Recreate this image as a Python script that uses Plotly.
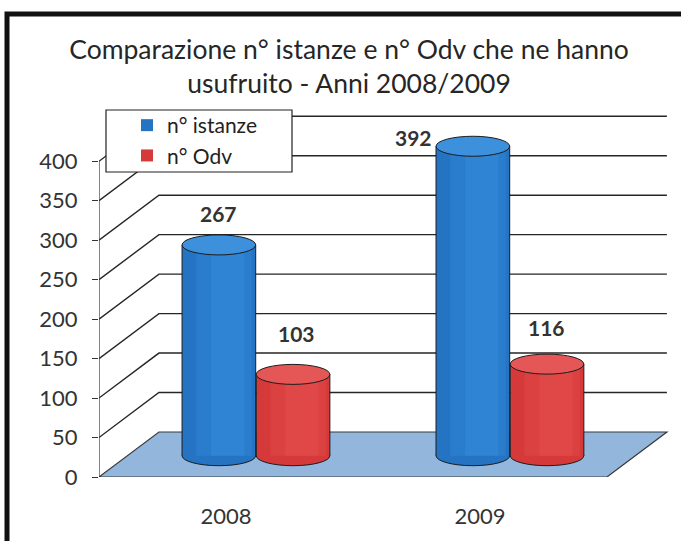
import plotly.graph_objects as go

# ---- data ----
categories = ["2008", "2009"]
series_names = ["n° istanze", "n° Odv"]
istanze = [267, 392]
odv = [103, 116]
y_ticks = [0, 50, 100, 150, 200, 250, 300, 350, 400]
title_text = "Comparazione n° istanze e n° Odv che ne hanno<br>usufruito - Anni 2008/2009"

# ---- styling / geometry (pseudo-3D) ----
W, H = 681, 541
ML, MR, MT, MB = 99, 8, 106, 64
XR = [-0.5, 1.76]
YR = [0, 470]
plot_w = W - ML - MR
plot_h = H - MT - MB
px_per_y = plot_h / (YR[1] - YR[0])

DX_BACK, DY_BACK = 0.236, 57.0     # depth offset of the back wall
DX_MID, DY_MID = 0.118, 27.0       # depth offset where cylinders stand
BAR_W = 0.29
OFFS = [-0.146, 0.146]
RY = 10 / px_per_y                 # ellipse vertical radius in data units

body_cols = ["#2574c4", "#d63939"]
shade_cols = ["#2a7dcd", "#dc4141"]
light_cols = ["#2f85d4", "#e04848"]
top_cols = ["#3d90dc", "#e55656"]
edge = "#1c1c1c"
floor_col = "#93b6dd"
font_fam = "Lato, 'Open Sans', sans-serif"

fig = go.Figure()
shapes = []
annotations = []

x_left = XR[0]
x_right = x_left + len(categories)

# floor
shapes.append(dict(
    type="path", xref="x", yref="y", layer="below",
    path=f"M {x_left},0 L {x_right},0 L {x_right+DX_BACK},{DY_BACK} L {x_left+DX_BACK},{DY_BACK} Z",
    fillcolor=floor_col, line=dict(color="#3a3a3a", width=1.2)))

# wall grid lines (left wall diagonal + back wall horizontal)
for v in y_ticks[1:]:
    shapes.append(dict(
        type="path", xref="x", yref="y", layer="below",
        path=f"M {x_left},{v} L {x_left+DX_BACK},{v+DY_BACK} L {x_right+DX_BACK},{v+DY_BACK}",
        line=dict(color="#262626", width=1.4)))

# front value axis line
shapes.append(dict(type="line", xref="x", yref="y", layer="above",
                   x0=x_left, x1=x_left, y0=y_ticks[0], y1=y_ticks[-1],
                   line=dict(color="#333333", width=1.2)))

label_shift = [[(0, 31), (-59, 9)], [(3, 41), (-1, 37)]]

for s, (name, vals) in enumerate(zip(series_names, [istanze, odv])):
    xs = [i + DX_MID + OFFS[s] for i in range(len(categories))]
    fig.add_trace(go.Bar(
        x=xs, y=vals, base=DY_MID, width=BAR_W, name=name,
        marker=dict(color=body_cols[s], line=dict(width=0)),
        hoverinfo="skip"))
    # cylinder shading bands
    fig.add_trace(go.Bar(
        x=[x + 0.02 for x in xs], y=vals, base=DY_MID, width=BAR_W * 0.75,
        marker=dict(color=shade_cols[s], line=dict(width=0)),
        showlegend=False, hoverinfo="skip"))
    fig.add_trace(go.Bar(
        x=[x + 0.035 for x in xs], y=vals, base=DY_MID, width=BAR_W * 0.45,
        marker=dict(color=light_cols[s], line=dict(width=0)),
        showlegend=False, hoverinfo="skip"))
    for i, (cx, v) in enumerate(zip(xs, vals)):
        top = DY_MID + v
        # bottom ellipse
        shapes.append(dict(type="circle", xref="x", yref="y", layer="below",
                           x0=cx - BAR_W / 2, x1=cx + BAR_W / 2,
                           y0=DY_MID - RY, y1=DY_MID + RY,
                           fillcolor=body_cols[s], line=dict(color=edge, width=1)))
        # sides
        for sx in (cx - BAR_W / 2, cx + BAR_W / 2):
            shapes.append(dict(type="line", xref="x", yref="y", layer="above",
                               x0=sx, x1=sx, y0=DY_MID, y1=top,
                               line=dict(color=edge, width=1)))
        # top ellipse
        shapes.append(dict(type="circle", xref="x", yref="y", layer="above",
                           x0=cx - BAR_W / 2, x1=cx + BAR_W / 2,
                           y0=top - RY, y1=top + RY,
                           fillcolor=top_cols[s], line=dict(color=edge, width=1)))
        dx, dy = label_shift[s][i]
        annotations.append(dict(x=cx, y=top, xref="x", yref="y", text=str(v),
                                showarrow=False, xshift=dx, yshift=dy,
                                font=dict(family=font_fam, size=21, color="#333333", weight="bold")))

# legend box
lx0, lx1 = (106 - ML) / plot_w, (292 - ML) / plot_w
ly0, ly1 = (H - MB - 172) / plot_h, (H - MB - 110) / plot_h
shapes.append(dict(type="rect", xref="paper", yref="paper", layer="above",
                   x0=lx0, x1=lx1, y0=ly0, y1=ly1,
                   fillcolor="white", line=dict(color="#222222", width=1.2)))

# outer frame
shapes.append(dict(type="rect", xref="paper", yref="paper", layer="above",
                   x0=(7 - ML) / plot_w, x1=1.3, y0=-0.5, y1=(H - MB - 14) / plot_h,
                   line=dict(color="#111111", width=5), fillcolor="rgba(0,0,0,0)"))

fig.update_layout(
    width=W, height=H,
    margin=dict(l=ML, r=MR, t=MT, b=MB),
    paper_bgcolor="white", plot_bgcolor="rgba(0,0,0,0)",
    font=dict(family=font_fam, color="#333333"),
    title=dict(text=title_text, x=349 / W, y=1 - 59 / H, xref="container", yref="container",
               xanchor="center", yanchor="middle",
               font=dict(family=font_fam, size=26.5, color="#262626")),
    showlegend=True,
    legend=dict(x=(127 - ML) / plot_w, y=(H - MB - 105) / plot_h, xanchor="left", yanchor="top",
                bgcolor="rgba(0,0,0,0)", borderwidth=0, tracegroupgap=0,
                font=dict(family=font_fam, size=21, color="#222222"),
                itemclick=False, itemdoubleclick=False),
    barmode="overlay",
    shapes=shapes, annotations=annotations,
    xaxis=dict(range=XR, tickvals=list(range(len(categories))), ticktext=categories,
               showgrid=False, zeroline=False, showline=False, ticks="",
               ticklabelstandoff=24, tickfont=dict(size=22, color="#333333")),
    yaxis=dict(range=YR, tickvals=y_ticks, showgrid=False, zeroline=False, showline=False,
               ticks="outside", ticklen=6, tickcolor="#333333", ticklabelstandoff=10,
               tickfont=dict(size=22, color="#333333")),
)

fig.write_html("out.html", config={"displayModeBar": False},
               post_script="document.body.style.margin='0';document.body.style.overflow='hidden';")
